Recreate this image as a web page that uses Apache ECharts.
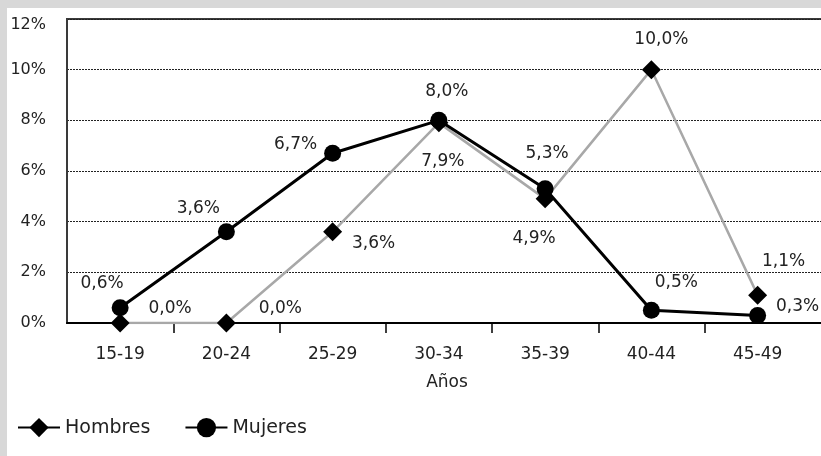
<!DOCTYPE html>
<html>
<head>
<meta charset="utf-8">
<script src="https://cdn.jsdelivr.net/npm/echarts@6/dist/echarts.min.js"></script>
<style>
  html, body { margin: 0; padding: 0; width: 821px; height: 456px; overflow: hidden; background: #d8d8d8; }
  #chart { position: absolute; left: 7px; top: 8px; width: 920px; height: 448px; background: #ffffff; }
</style>
</head>
<body>
<div id="chart"></div>
<script>
// Age groups on the x axis
const categories = ['15-19', '20-24', '25-29', '30-34', '35-39', '40-44', '45-49'];
// Percentages per age group
const hombres = [0.0, 0.0, 3.6, 7.9, 4.9, 10.0, 1.1];
const mujeres = [0.6, 3.6, 6.7, 8.0, 5.3, 0.5, 0.3];
// Y axis ticks (percent)
const yMin = 0, yMax = 12, yStep = 2;

// Where each value label sits relative to its marker (px)
const hombresLabelOffsets = [[50, -14], [54, -14], [41, 12], [4, 39], [-11, 40], [10, -30], [26, -34]];
const mujeresLabelOffsets = [[-18, -24], [-28, -23], [-37, -9], [8, -29], [2, -35], [25, -28], [40, -9]];

const font = 'DejaVu Sans';
const textColor = '#222';
const fmt = v => v.toFixed(1).replace('.', ',') + '%';

function seriesData(values, offsets) {
  return values.map((v, i) => ({
    value: v,
    label: { offset: offsets[i] }
  }));
}

const chart = echarts.init(document.getElementById('chart'), null, { renderer: 'canvas' });

chart.setOption({
  animation: false,
  backgroundColor: '#ffffff',
  title: {
    text: 'Años',
    left: 440,
    top: 366,
    textAlign: 'center',
    padding: 0,
    textStyle: { fontFamily: font, fontSize: 17, fontWeight: 'normal', color: textColor }
  },
  grid: {
    left: 60,
    top: 11,
    width: 850,
    height: 304,
    show: true,
    borderColor: '#3a3a3a',
    borderWidth: 2,
    outerBoundsMode: 'none',
    containLabel: false
  },
  legend: {
    left: 10,
    top: 410,
    padding: 0,
    itemWidth: 42,
    itemHeight: 24,
    itemGap: 34,
    textStyle: { fontFamily: font, fontSize: 19, color: textColor },
    data: [
      { name: 'Hombres', lineStyle: { color: '#000', width: 2 } },
      { name: 'Mujeres', lineStyle: { color: '#000', width: 2 } }
    ]
  },
  xAxis: {
    type: 'category',
    data: categories,
    max: categories.length,
    boundaryGap: true,
    axisLine: { lineStyle: { color: '#000', width: 2 } },
    axisTick: {
      show: true,
      length: 10,
      interval: i => i > 0 && i < categories.length,
      lineStyle: { color: '#000', width: 1.5 }
    },
    axisLabel: {
      margin: 23,
      interval: 0,
      fontFamily: font,
      fontSize: 17,
      color: textColor,
      formatter: (v, i) => categories[i] !== undefined ? categories[i] : ''
    },
    splitLine: { show: false }
  },
  yAxis: {
    type: 'value',
    min: yMin,
    max: yMax,
    interval: yStep,
    axisLine: { show: true, lineStyle: { color: '#3a3a3a', width: 2 } },
    axisTick: { show: false },
    axisLabel: {
      margin: 21,
      fontFamily: font,
      fontSize: 16,
      color: textColor,
      // the top label sits a little below its gridline
      formatter: v => v === yMax ? '{top|' + v + '%}' : v + '%',
      rich: {
        top: { fontFamily: font, fontSize: 16, color: textColor, padding: [12, 0, 0, 0] }
      }
    },
    splitLine: { show: true, lineStyle: { color: '#222', width: 1, type: [2, 1] } }
  },
  series: [
    {
      name: 'Hombres',
      type: 'line',
      data: seriesData(hombres, hombresLabelOffsets),
      symbol: 'diamond',
      symbolSize: 19,
      itemStyle: { color: '#000' },
      lineStyle: { color: '#a8a8a8', width: 2.5 },
      z: 2,
      label: {
        show: true,
        position: 'inside',
        align: 'center',
        verticalAlign: 'middle',
        fontFamily: font,
        fontSize: 17,
        color: textColor,
        formatter: p => fmt(p.value)
      }
    },
    {
      name: 'Mujeres',
      type: 'line',
      data: seriesData(mujeres, mujeresLabelOffsets),
      symbol: 'circle',
      symbolSize: 17,
      itemStyle: { color: '#000' },
      lineStyle: { color: '#000', width: 3 },
      z: 3,
      label: {
        show: true,
        position: 'inside',
        align: 'center',
        verticalAlign: 'middle',
        fontFamily: font,
        fontSize: 17,
        color: textColor,
        formatter: p => fmt(p.value)
      }
    }
  ]
});
</script>
</body>
</html>
